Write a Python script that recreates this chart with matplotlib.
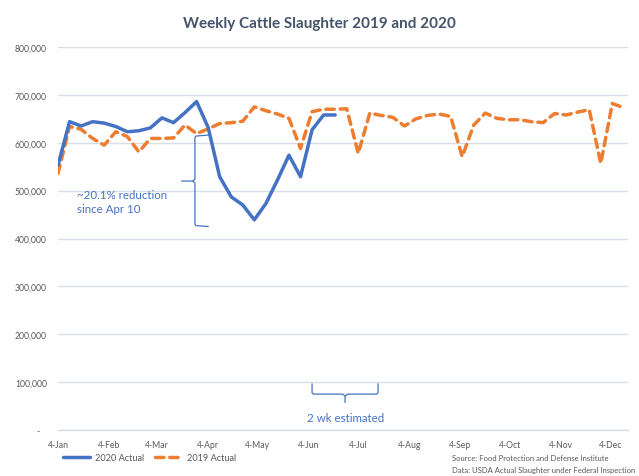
import matplotlib
matplotlib.use("Agg")
import matplotlib.pyplot as plt
import matplotlib.dates as mdates
from matplotlib.ticker import FuncFormatter, MultipleLocator
import numpy as np
import datetime as dt

plt.rcParams['font.family'] = ['Lato', 'DejaVu Sans']

# ---- data ----
start = dt.date(2020, 1, 4)
weeks_2020 = [start + dt.timedelta(days=7 * i) for i in range(25)]
weeks_2019 = [start + dt.timedelta(days=7 * i) for i in range(50)]

actual_2020 = [553000, 644000, 635000, 644000, 641000, 634000, 623000, 625000,
               631000, 652000, 642000, 663000, 686000, 632000, 529000, 487000,
               470000, 439000, 473000, 522000, 574000, 529000, 627000, 658000,
               658000]

actual_2019 = [536000, 634000, 628000, 609000, 595000, 623000, 613000, 581000,
               609000, 609000, 610000, 637000, 619000, 629000, 640000, 642000,
               645000, 675000, 667000, 660000, 651000, 588000, 665000, 670000,
               670000, 671000, 578000, 662000, 657000, 653000, 635000, 650000,
               657000, 660000, 655000, 571000, 637000, 662000, 651000, 648000,
               648000, 644000, 642000, 661000, 658000, 664000, 669000, 557000,
               682000, 673000]

month_ticks = [dt.date(2020, m, 4) for m in range(1, 13)]

title = "Weekly Cattle Slaughter 2019 and 2020"
series_labels = ["2020 Actual", "2019 Actual"]

BLUE = '#4472C4'
ORANGE = '#ED7D31'
GRID = '#D9DEE5'
TXT = '#595959'

fig = plt.figure(figsize=(6.39, 4.77), dpi=100)
ax = fig.add_axes([58 / 639, 1 - 431 / 477, 570 / 639, 383 / 477])

l20, = ax.plot(weeks_2020, actual_2020, color=BLUE, lw=2.5, solid_capstyle='round',
               solid_joinstyle='round', label=series_labels[0], zorder=3)
l19, = ax.plot(weeks_2019, actual_2019, color=ORANGE, lw=2.5, dashes=(2.4, 1.7),
               dash_capstyle='round', label=series_labels[1], zorder=2)

ax.set_xlim(mdates.date2num(start), mdates.date2num(dt.date(2020, 12, 14)) + 0.5)
ax.set_ylim(0, 800000)
ax.yaxis.set_major_locator(MultipleLocator(100000))
ax.yaxis.set_major_formatter(FuncFormatter(lambda v, p: '-   ' if v == 0 else f"{int(v):,}"))
ax.set_xticks([mdates.date2num(d) for d in month_ticks])
ax.xaxis.set_major_formatter(mdates.DateFormatter('%-d-%b'))

ax.grid(axis='y', color=GRID, lw=1.0)
ax.set_axisbelow(True)
for s in ['top', 'left', 'right']:
    ax.spines[s].set_visible(False)
ax.spines['bottom'].set_color(GRID)
ax.spines['bottom'].set_linewidth(1.0)
ax.tick_params(axis='both', length=0, labelsize=6.2, labelcolor=TXT)
ax.tick_params(axis='y', pad=8)
ax.tick_params(axis='x', pad=7)

fig.text(0.5, 1 - 24 / 477, title, ha='center', va='center', fontsize=11,
         fontweight='bold', color='#44546A')

# annotation brace 1
d = lambda m, day: mdates.date2num(dt.date(2020, m, day))
bx = d(3, 27)
ax.plot([d(4, 4), bx + 0.6, bx, bx, bx - 1.2, d(3, 19)],
        [616000, 614000, 611000, 524000, 520000, 520000], color=BLUE, lw=0.9)
ax.plot([bx - 1.2, bx, bx, bx + 0.6, d(4, 4)],
        [520000, 516000, 430000, 427000, 425000], color=BLUE, lw=0.9)
ax.text(d(1, 15) + 0.5, 478000, "~20.1% reduction\nsince Apr 10", ha='left', va='center',
        fontsize=8.3, color=BLUE, linespacing=1.35)

# annotation brace 2
x1, x2, xm = d(6, 6), d(7, 16), d(6, 26)
ax.plot([x1, x1, x1 + 0.8, xm - 1.5, xm, xm],
        [96000, 78000, 75000, 75000, 71000, 58000], color=BLUE, lw=0.9)
ax.plot([xm, xm + 1.5, x2 - 0.8, x2, x2],
        [71000, 75000, 75000, 78000, 96000], color=BLUE, lw=0.9)
ax.text(xm + 0.5, 27000, "2 wk estimated", ha='center', va='center', fontsize=8.3, color=BLUE)

leg = fig.legend(handles=[l20, l19], loc='center left',
                 bbox_to_anchor=(63 / 639, 1 - 459 / 477), ncol=2, frameon=False,
                 fontsize=6.6, handlelength=3.0, handletextpad=0.5, columnspacing=1.2,
                 borderpad=0, borderaxespad=0)
for t in leg.get_texts():
    t.set_color(TXT)

fig.text(452 / 639, 1 - 459 / 477, "Source: Food Protection and Defense Institute",
         ha='left', va='center', fontsize=5.5, color=TXT)
fig.text(452 / 639, 1 - 471 / 477, "Data: USDA Actual Slaughter under Federal Inspection",
         ha='left', va='center', fontsize=5.5, color=TXT)

fig.savefig("out.png", dpi=100)
